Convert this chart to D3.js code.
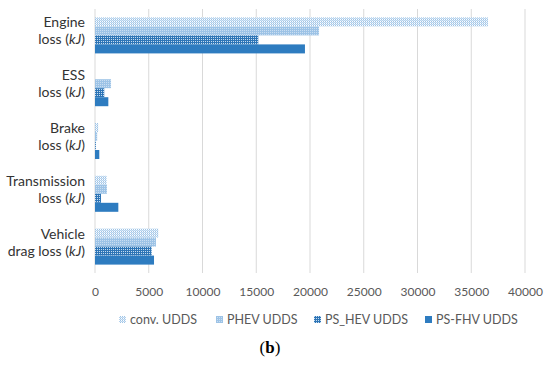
<!DOCTYPE html>
<html lang="en">
<head>
<meta charset="utf-8">
<title>Losses</title>
<script src="https://d3js.org/d3.v7.min.js"></script>
<style>
  body { margin: 0; background: #fff; }
  text { font-family: Lato, "Liberation Sans", sans-serif; }
</style>
</head>
<body>
<div id="chart"></div>
<script>
// categories (two-line labels) and series
const categories = ["Engine", "ESS", "Brake", "Transmission", "Vehicle"];
const labelTop = ["Engine", "ESS", "Brake", "Transmission", "Vehicle"];
const labelBottom = ["loss", "loss", "loss", "loss", "drag loss"];
const seriesNames = ["conv. UDDS", "PHEV UDDS", "PS_HEV UDDS", "PS-FHV UDDS"];

// values in kJ
const convUDDS  = [36550, 0, 300, 1090, 5890];
const phevUDDS  = [20840, 1490, 200, 1110, 5670];
const pshevUDDS = [15190, 860, 80, 560, 5270];
const psfhvUDDS = [19530, 1240, 400, 2170, 5490];
const xTicks = [0, 5000, 10000, 15000, 20000, 25000, 30000, 35000, 40000];

const allSeries = [convUDDS, phevUDDS, pshevUDDS, psfhvUDDS];

const W = 550, H = 368;
const margin = {top: 9, left: 95, right: 25, bottom: 95};
const width = W - margin.left - margin.right,
      height = H - margin.top - margin.bottom;

const svg = d3.select("#chart").append("svg")
  .attr("width", W).attr("height", H);

// fill patterns
const defs = svg.append("defs");
function pat(id, size, bg, dots) {
  const p = defs.append("pattern").attr("id", id)
    .attr("patternUnits", "userSpaceOnUse")
    .attr("width", size).attr("height", size);
  p.append("rect").attr("width", size).attr("height", size).attr("fill", bg);
  dots.forEach(d => p.append("rect").attr("x", d[0]).attr("y", d[1])
    .attr("width", 1).attr("height", 1).attr("fill", d[2]));
}
pat("p0", 2, "#ffffff", [[0, 0, "#9dc3e6"], [1, 1, "#b4d2ee"], [0, 1, "#d6e6f5"]]);
pat("p1", 2, "#9dc3e6", [[1, 1, "#c9def2"]]);
pat("p2", 2, "#2e75b6", [[0, 0, "#c5dcf0"]]);
const fills = ["url(#p0)", "url(#p1)", "url(#p2)", "#2e7cc0"];

const g = svg.append("g")
  .attr("transform", `translate(${margin.left},${margin.top})`);

const x = d3.scaleLinear().domain([0, 40000]).range([0, 430]);
const y = d3.scaleBand().domain(categories).range([0, height])
  .paddingInner(0.318).paddingOuter(0.159);
const ySub = d3.scaleBand().domain(d3.range(4)).range([0, y.bandwidth()]);

// gridlines
g.selectAll(".grid").data(xTicks).join("line")
  .attr("x1", d => x(d)).attr("x2", d => x(d))
  .attr("y1", 0).attr("y2", height)
  .attr("stroke", "#d9d9d9").attr("stroke-width", 1);

// x axis labels
const xAxis = d3.axisBottom(x).tickValues(xTicks).tickSize(0).tickPadding(14)
  .tickFormat(d3.format("d"));
g.append("g").attr("transform", `translate(0,${height})`).call(xAxis)
  .call(a => a.select(".domain").remove())
  .selectAll("text").attr("fill", "#595959")
  .style("font-size", "12px").style("font-family", "Lato, sans-serif");

// bars
allSeries.forEach((vals, si) => {
  g.append("g").selectAll("rect").data(vals).join("rect")
    .attr("x", x(0))
    .attr("y", (d, i) => y(categories[i]) + ySub(si))
    .attr("width", d => x(d) - x(0))
    .attr("height", ySub.bandwidth())
    .attr("fill", fills[si]);
});

// category labels
const lab = g.append("g");
categories.forEach((c, i) => {
  const cy = y(c) + y.bandwidth() / 2;
  const t = lab.append("text").attr("text-anchor", "end")
    .attr("fill", "#333333").style("font-size", "14px");
  t.append("tspan").attr("x", -10).attr("y", cy - 8).text(labelTop[i]);
  const t2 = t.append("tspan").attr("x", -10).attr("y", cy + 9);
  t2.append("tspan").text(labelBottom[i] + " (");
  t2.append("tspan").style("font-style", "italic").text("kJ");
  t2.append("tspan").text(")");
});

// legend
const legX = [119, 216, 314, 425];
const leg = svg.append("g").attr("transform", "translate(0,320)");
seriesNames.forEach((s, i) => {
  leg.append("rect").attr("x", legX[i]).attr("y", -4)
    .attr("width", 7).attr("height", 7).attr("fill", fills[i]);
  leg.append("text").attr("x", legX[i] + 11).attr("y", 4)
    .attr("fill", "#595959").style("font-size", "12.5px").text(s);
});

// caption
const cap = svg.append("text").attr("x", 270).attr("y", 353)
  .attr("text-anchor", "middle").attr("fill", "#000")
  .style("font-family", "'Liberation Serif', serif").style("font-size", "17px");
cap.append("tspan").text("(");
cap.append("tspan").style("font-weight", "bold").text("b");
cap.append("tspan").text(")");
</script>
</body>
</html>
